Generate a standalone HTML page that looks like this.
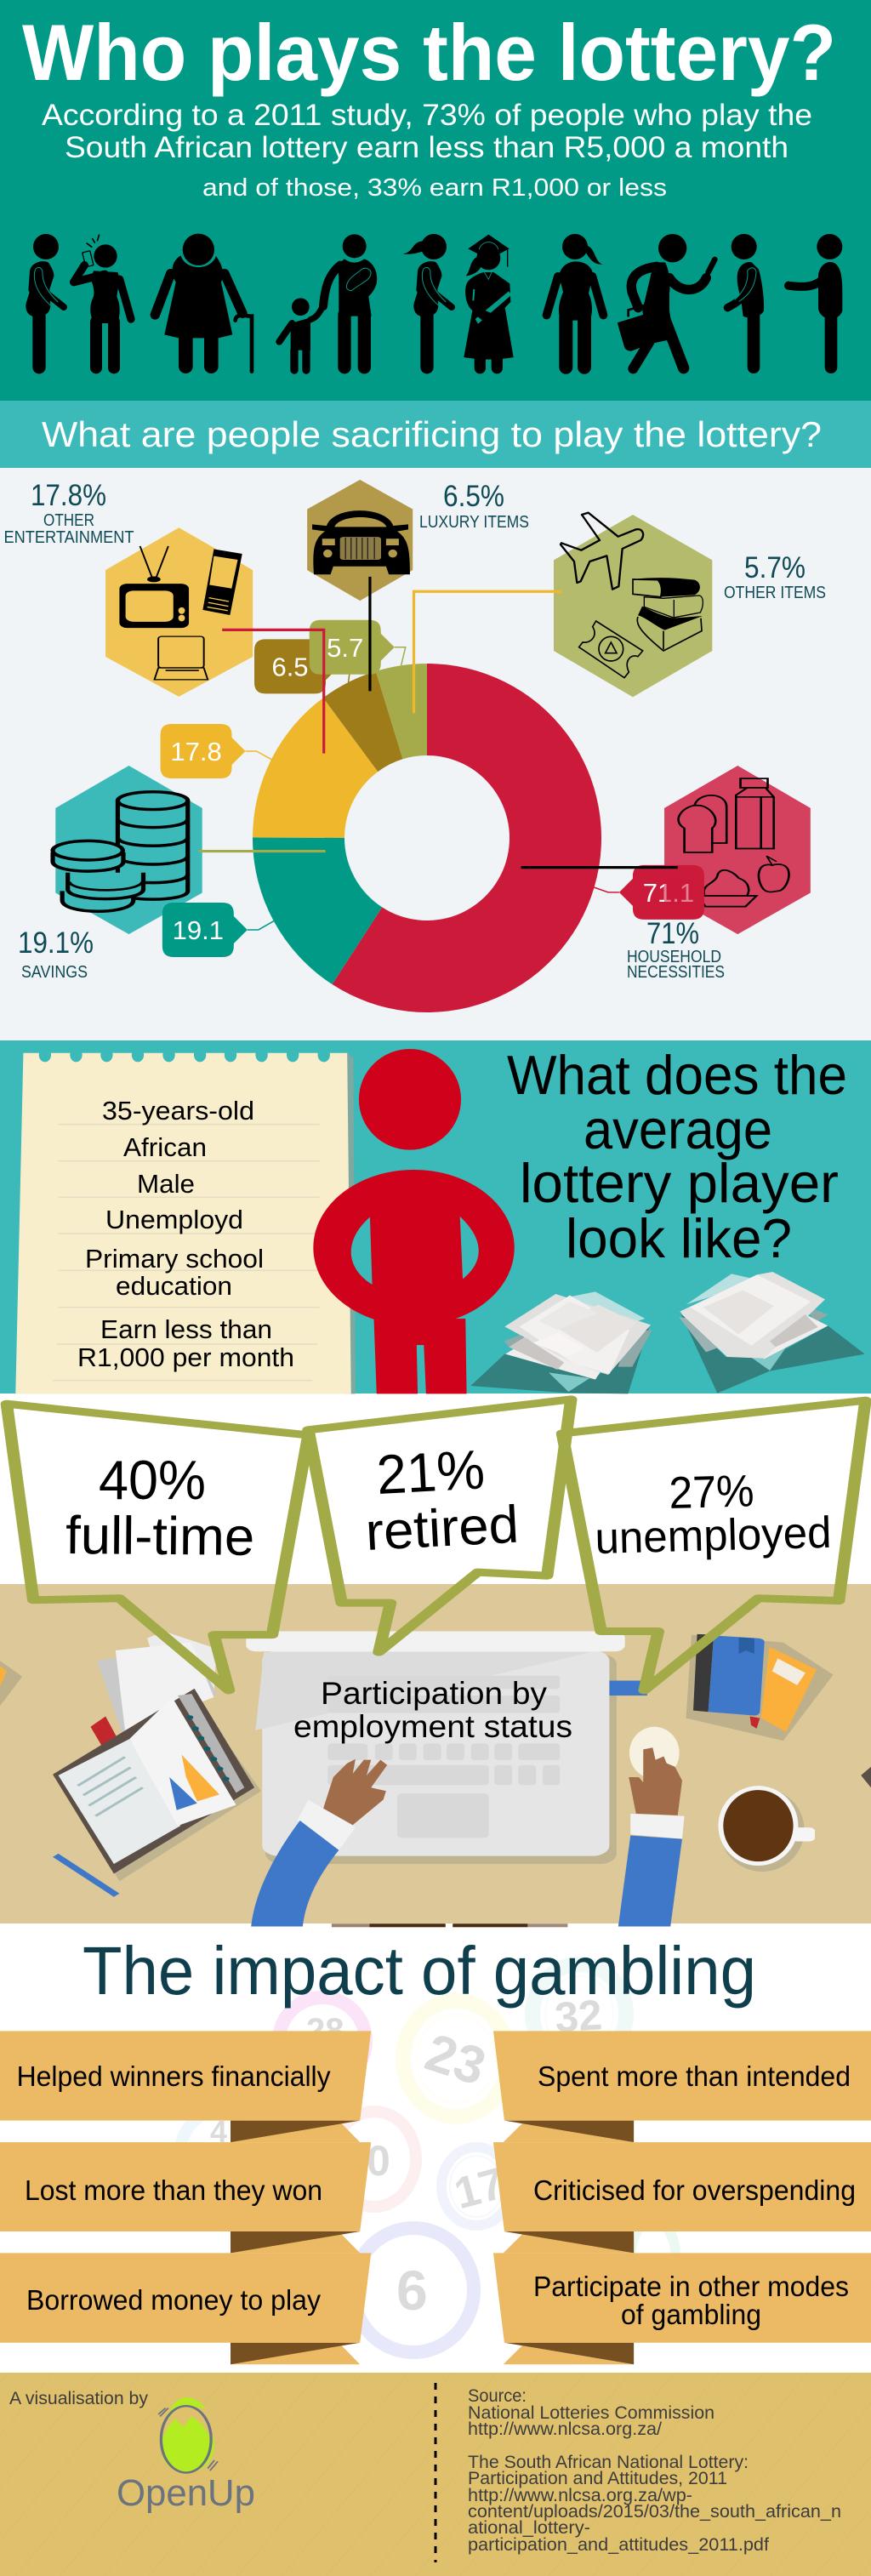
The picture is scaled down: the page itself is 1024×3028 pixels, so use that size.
<!DOCTYPE html>
<html lang="en">
<head>
<meta charset="utf-8">
<title>Who plays the lottery?</title>
<style>
html,body{margin:0;padding:0;background:#fff;width:1024px;height:3028px;overflow:hidden}
svg{display:block}
text{font-family:"Liberation Sans",sans-serif}
.vs{vector-effect:non-scaling-stroke}
</style>
</head>
<body>
<svg xmlns="http://www.w3.org/2000/svg" width="1024" height="3028" viewBox="0 0 1024 3028">
<defs>
<pattern id="hatch" width="40" height="40" patternUnits="userSpaceOnUse" patternTransform="rotate(40)">
<line x1="0" y1="0" x2="0" y2="40" stroke="#d6b863" stroke-width="1"/>
</pattern>
</defs>

<!-- ==== Header ==== -->
<rect x="0" y="0" width="1024" height="471" fill="#019a87"/>
<text x="26" y="94" font-size="94" font-weight="700" fill="#fff" textLength="957" lengthAdjust="spacingAndGlyphs">Who plays the lottery?</text>
<text x="49" y="147" font-size="35" fill="#fff" textLength="906" lengthAdjust="spacingAndGlyphs">According to a 2011 study, 73% of people who play the</text>
<text x="76" y="185" font-size="35" fill="#fff" textLength="851" lengthAdjust="spacingAndGlyphs">South African lottery earn less than R5,000 a month</text>
<text x="238" y="230" font-size="29" fill="#fff" textLength="546" lengthAdjust="spacingAndGlyphs">and of those, 33% earn R1,000 or less</text>

<g transform="translate(0,265) scale(0.33333)" fill="#000" stroke="none">
  <g>
    <circle cx="162" cy="75" r="45"/>
    <path d="M105 160 C110 130 150 120 170 130 C185 150 195 175 188 185 L175 225 L178 285 C175 315 150 325 115 320 C95 315 85 290 95 265 C100 245 108 235 100 230Z"/>
    <path d="M165 240 L225 288" stroke="#000" stroke-width="24" stroke-linecap="round"/>
    <path d="M122 165 C125 140 150 145 150 165 C148 195 165 235 205 270 M122 165 C115 215 150 265 205 302" fill="none" stroke="#019a87" stroke-width="3"/>
    <path d="M138 320 V500" stroke="#000" stroke-width="46" stroke-linecap="round"/>
  </g>
  <g>
    <circle cx="372" cy="108" r="41"/>
    <rect x="296" y="92" width="28" height="52" rx="3" fill="#019a87" stroke="#000" stroke-width="4" transform="rotate(-14 310 118)"/>
    <path d="M370 172 L260 200 L298 140" fill="none" stroke="#000" stroke-width="28" stroke-linecap="round" stroke-linejoin="round"/>
    <path d="M330 160 L415 165 C425 185 415 230 412 250 C425 280 425 310 415 345 L330 345 C315 310 315 280 330 250 C335 230 325 200 320 190Z"/>
    <path d="M422 190 L462 330" stroke="#000" stroke-width="28" stroke-linecap="round"/>
    <path d="M339 340 V502 M402 340 V502" stroke="#000" stroke-width="42" stroke-linecap="round"/>
    <path d="M305 62 L325 77 M325 45 L335 62 M350 32 L343 55" stroke="#000" stroke-width="5"/>
  </g>
  <g>
    <circle cx="700" cy="85" r="56"/>
    <path d="M640 105 C610 120 595 160 620 200 L580 385 L630 397 L770 397 L820 385 L780 200 C800 160 770 120 760 105 C740 155 660 155 640 105Z"/>
    <path d="M602 170 L547 315 M792 170 L855 310" stroke="#000" stroke-width="34" stroke-linecap="round"/>
    <path d="M640 105 C655 158 745 158 760 105" fill="none" stroke="#019a87" stroke-width="5"/>
    <path d="M655 397 V497 M745 397 V497" stroke="#000" stroke-width="50" stroke-linecap="round"/>
    <path d="M830 335 C832 305 875 322 888 320 V515" fill="none" stroke="#000" stroke-width="14" stroke-linecap="round"/>
  </g>
  <g>
    <circle cx="1060" cy="287" r="31"/>
    <path d="M1025 345 L1095 325 L1095 440 L1025 440Z"/>
    <path d="M1030 345 L985 410" stroke="#000" stroke-width="24" stroke-linecap="round"/>
    <path d="M1095 332 C1120 325 1130 300 1145 275" fill="none" stroke="#000" stroke-width="22" stroke-linecap="round"/>
    <path d="M1038 440 V510 M1080 440 V510" stroke="#000" stroke-width="28" stroke-linecap="round"/>
  </g>
  <g>
    <circle cx="1250" cy="73" r="42"/>
    <path d="M1215 118 C1240 135 1260 135 1285 118 C1320 130 1335 170 1328 205 C1320 230 1310 240 1300 250 L1310 320 L1195 320 L1195 180 C1190 160 1195 130 1215 118Z"/>
    <path d="M1200 140 C1155 175 1145 230 1140 285" fill="none" stroke="#000" stroke-width="30" stroke-linecap="round"/>
    <path d="M1222 215 C1225 185 1260 170 1275 155 C1290 145 1310 155 1308 170 C1305 195 1270 205 1240 230 C1230 230 1222 225 1222 215Z" fill="#000" stroke="#019a87" stroke-width="3"/>
    <path d="M1215 315 V500 M1285 315 V500" stroke="#000" stroke-width="46" stroke-linecap="round"/>
  </g>
  <g>
    <circle cx="1530" cy="75" r="45"/>
    <path d="M1490 55 C1450 60 1460 95 1420 100 C1450 105 1480 95 1495 90Z"/>
    <g transform="translate(1368,0)">
      <path d="M105 160 C110 130 150 120 170 130 C185 150 195 175 188 185 L175 225 L178 285 C175 315 150 325 115 320 C95 315 85 290 95 265 C100 245 108 235 100 230Z"/>
      <path d="M165 240 L225 288" stroke="#000" stroke-width="24" stroke-linecap="round"/>
      <path d="M122 165 C125 140 150 145 150 165 C148 195 165 235 205 270 M122 165 C115 215 150 265 205 302" fill="none" stroke="#019a87" stroke-width="3"/>
      <path d="M138 320 V500" stroke="#000" stroke-width="46" stroke-linecap="round"/>
    </g>
  </g>
</g>
<g transform="translate(512,265) scale(0.33333)" fill="#000" stroke="none">
  <g>
    <path d="M187 32 L260 82 L187 120 L115 82Z"/>
    <path d="M254 85 V146" stroke="#000" stroke-width="4"/>
    <path d="M153 85 C165 50 210 50 222 85" fill="none" stroke="#019a87" stroke-width="2.5"/>
    <circle cx="187" cy="115" r="42"/>
    <path d="M150 110 C120 120 125 160 107 178 C135 175 155 160 160 145Z"/>
    <path d="M170 165 L205 165 L262 205 L265 270 L245 290 L275 465 Q190 480 100 465 L130 300 C105 280 100 230 110 205 C120 185 150 170 170 165Z"/>
    <path d="M172 165 L187 190 L198 165" fill="none" stroke="#019a87" stroke-width="2.5"/>
    <path d="M136 225 L133 265" stroke="#019a87" stroke-width="6"/>
    <polygon points="140,330 258,232 268,245 150,347" fill="#019a87"/>
    <path d="M150 290 L200 310 L165 335 L135 310Z"/>
    <path d="M157 470 V503 M217 470 V503" stroke="#000" stroke-width="40" stroke-linecap="round"/>
  </g>
  <g>
    <circle cx="492" cy="75" r="45"/>
    <path d="M530 70 C565 75 560 130 590 137 C560 140 545 120 530 95Z"/>
    <path d="M435 175 C445 140 470 127 495 127 C525 127 555 145 555 175 L540 240 C555 270 555 310 545 335 L440 335 C430 300 435 270 450 235Z"/>
    <path d="M432 180 L392 316 M553 180 L592 316" stroke="#000" stroke-width="30" stroke-linecap="round"/>
    <path d="M460 325 V500 M525 325 V500" stroke="#000" stroke-width="48" stroke-linecap="round"/>
  </g>
  <g>
    <circle cx="836" cy="80" r="50"/>
    <path d="M770 130 L810 130 C825 160 830 200 825 240 L825 300 L840 400 L745 420 L730 300Z"/>
    <path d="M780 145 C705 155 680 190 695 240 L715 290" fill="none" stroke="#000" stroke-width="34" stroke-linecap="round"/>
    <path d="M825 185 C860 240 930 240 955 185" fill="none" stroke="#000" stroke-width="34" stroke-linecap="round"/>
    <path d="M962 165 L985 120" stroke="#000" stroke-width="20" stroke-linecap="round"/>
    <path d="M805 320 L875 503" stroke="#000" stroke-width="40" stroke-linecap="round"/>
    <path d="M755 410 L697 505" stroke="#000" stroke-width="36" stroke-linecap="round"/>
    <path d="M645 345 L790 300 L820 390 L690 440 Q672 440 668 425Z" stroke="#000" stroke-width="6" stroke-linejoin="round"/>
    <path d="M680 322 V298 L735 282 L738 305" fill="none" stroke="#000" stroke-width="8"/>
  </g>
  <g>
    <circle cx="1088" cy="75" r="45"/>
    <path d="M1115 130 C1095 125 1070 140 1065 170 C1060 210 1075 240 1080 280 L1085 320 C1100 330 1150 325 1158 300 C1160 250 1150 190 1140 155Z"/>
    <path d="M1095 240 C1080 260 1060 275 1030 290" fill="none" stroke="#000" stroke-width="28" stroke-linecap="round"/>
    <path d="M1100 160 C1115 140 1135 150 1130 175 C1125 220 1100 250 1070 268 M1100 160 C1105 200 1085 235 1055 262" fill="none" stroke="#019a87" stroke-width="3"/>
    <path d="M1122 320 V500" stroke="#000" stroke-width="44" stroke-linecap="round"/>
  </g>
  <g>
    <circle cx="1390" cy="75" r="45"/>
    <path d="M1350 175 C1355 140 1380 125 1400 130 C1425 135 1435 170 1435 230 V300 C1430 320 1410 330 1395 330 C1370 330 1350 310 1350 290Z"/>
    <path d="M1245 212 C1290 218 1330 220 1360 195" fill="none" stroke="#000" stroke-width="30" stroke-linecap="round"/>
    <path d="M1395 325 V500" stroke="#000" stroke-width="44" stroke-linecap="round"/>
  </g>
</g>

<rect x="0" y="471" width="1024" height="79" fill="#3cb9b9"/>
<text x="49" y="525" font-size="42" fill="#fff" textLength="917" lengthAdjust="spacingAndGlyphs">What are people sacrificing to play the lottery?</text>

<!-- ==== Donut section ==== -->
<rect x="0" y="550" width="1024" height="673" fill="#f0f4f6"/>
<g transform="translate(0,540) scale(0.65306,0.43367)">
  <g>
    <polygon points="322,185 455,300 455,535 322,643 190,535 190,300" fill="#f0c455"/>
    <rect x="215" y="337" width="125" height="120" rx="14" fill="#000"/>
    <rect x="226" y="356" width="86" height="84" rx="14" fill="#f0c455"/>
    <ellipse cx="327" cy="410" rx="6" ry="9" fill="#f0c455"/><ellipse cx="327" cy="430" rx="6" ry="9" fill="#f0c455"/>
    <path d="M252 235 L275 325 M303 235 L280 325" stroke="#000" stroke-width="3" fill="none"/>
    <ellipse cx="277" cy="325" rx="12" ry="8" fill="#000"/>
    <polygon points="385,243 436,256 414,422 365,408" fill="#000"/>
    <polygon points="385,262 428,272 417,350 377,340" fill="#f0c455"/>
    <path d="M376 375 L412 385 M375 388 L411 398 M373 400 L410 410" stroke="#f0c455" stroke-width="3"/>
    <rect x="285" y="480" width="82" height="85" rx="6" fill="none" stroke="#000" stroke-width="3"/>
    <path d="M285 565 L367 565 L374 597 L278 597Z" fill="none" stroke="#000" stroke-width="3"/>
    <path d="M298 572 H358" stroke="#000" stroke-width="4"/>
  </g>
  <g>
    <polygon points="648,55 743,135 743,300 648,383 553,300 553,135" fill="#b39a4a"/>
    <path d="M588 180 C600 125 695 125 708 180 L735 176 L735 190 L715 195 C735 215 738 245 738 312 L700 312 L695 290 L600 290 L595 312 L565 312 C562 245 565 215 585 195 L562 190 L562 176Z" fill="#000"/>
    <path d="M602 183 C612 148 685 148 696 183Z" fill="#b39a4a"/>
    <rect x="612" y="210" width="74" height="62" rx="6" fill="#8d7c45"/>
    <path d="M622 212 V270 M632 212 V270 M642 212 V270 M652 212 V270 M662 212 V270 M674 212 V270" stroke="#222" stroke-width="2"/>
    <rect x="580" y="215" width="23" height="18" fill="#b39a4a"/><rect x="695" y="215" width="23" height="18" fill="#b39a4a"/>
    <ellipse cx="590" cy="255" rx="8" ry="11" fill="#b39a4a"/><ellipse cx="707" cy="255" rx="8" ry="11" fill="#b39a4a"/>
  </g>
  <g>
    <polygon points="232,830 364,945 364,1175 232,1287 100,1175 100,945" fill="#3cb9b9"/>
    <path d="M212 925 V1170 C212 1200 338 1200 338 1170 V925" fill="#3cb9b9" stroke="#000" stroke-width="8"/>
    <ellipse cx="275" cy="925" rx="63" ry="24" fill="#3cb9b9" stroke="#000" stroke-width="8"/>
    <path d="M212 975 C215 1005 335 1005 338 975 M212 1025 C215 1055 335 1055 338 1025 M212 1075 C215 1105 335 1105 338 1075 M212 1125 C215 1155 335 1155 338 1125" fill="none" stroke="#000" stroke-width="8"/>
    <path d="M112 1170 V1195 C112 1235 240 1235 240 1195 V1170" fill="#3cb9b9" stroke="#000" stroke-width="8"/>
    <path d="M122 1120 V1165 C122 1200 258 1200 258 1165 V1120" fill="#3cb9b9" stroke="#000" stroke-width="8"/>
    <path d="M125 1145 C130 1175 250 1175 256 1145" fill="none" stroke="#000" stroke-width="6"/>
    <path d="M95 1065 V1090 C95 1125 222 1125 222 1090 V1065" fill="#3cb9b9" stroke="#000" stroke-width="8"/>
    <ellipse cx="158" cy="1060" rx="63" ry="26" fill="#3cb9b9" stroke="#000" stroke-width="8"/>
  </g>
  <g>
    <polygon points="1328,830 1459,945 1459,1175 1328,1287 1196,1175 1196,945" fill="#d4415f"/>
    <path d="M1250 940 C1255 900 1310 900 1308 945 V1040 H1280" fill="none" stroke="#000" stroke-width="4"/>
    <path d="M1232 1065 V1000 C1205 975 1235 935 1255 938 C1275 935 1300 975 1282 1000 V1065Z" fill="#d4415f" stroke="#000" stroke-width="4"/>
    <path d="M1325 910 L1345 890 H1378 L1393 915 V1055 H1325Z" fill="#d4415f" stroke="#000" stroke-width="4"/>
    <path d="M1333 865 H1382 V890 H1333Z M1325 915 H1370 V1055 M1370 915 L1393 915" fill="none" stroke="#000" stroke-width="4"/>
    <path d="M1390 1100 C1365 1090 1360 1130 1372 1160 C1380 1180 1395 1170 1400 1170 C1412 1170 1422 1140 1420 1120 C1418 1095 1400 1095 1390 1100Z" fill="none" stroke="#000" stroke-width="4"/>
    <path d="M1390 1100 L1380 1075 L1398 1090" fill="none" stroke="#000" stroke-width="3"/>
    <path d="M1268 1180 C1262 1150 1290 1150 1292 1125 C1300 1100 1322 1120 1330 1135 C1350 1145 1350 1170 1345 1182" fill="none" stroke="#000" stroke-width="4"/>
    <path d="M1256 1183 H1362 L1342 1212 H1270Z" fill="none" stroke="#000" stroke-width="4"/>
  </g>
</g>
<g transform="translate(640,600) scale(0.33333)" fill="none" stroke="#000">
  <polygon points="312,15 592,175 592,495 312,658 33,495 33,175" fill="#b5bb6d" stroke="none"/>
  <path d="M155 8 L132 15 L195 105 L130 140 L60 115 L57 120 L105 180 L115 255 L128 250 L160 180 L220 160 L240 278 L262 268 L275 135 L340 105 C358 85 345 60 320 68 L260 92Z" stroke-width="7" stroke-linejoin="round"/>
  <g>
    <path d="M312 243 C380 235 450 235 530 245 C555 255 555 285 530 298 L410 305 C415 285 415 262 400 245Z" fill="#000" stroke="none"/>
    <path d="M312 243 L400 245 C415 262 415 285 410 305 L312 295Z" stroke-width="5"/>
    <path d="M352 305 V340 L455 378 L550 360 C565 330 560 300 545 300 L420 310Z M457 315 V378" stroke-width="4"/>
    <path d="M345 338 C380 355 420 375 455 380 L558 372 L425 422 C395 410 355 375 330 370Z" fill="#000" stroke="none"/>
    <path d="M330 375 C320 400 340 430 420 495 L555 425 L552 380 M420 425 V490" stroke-width="5"/>
  </g>
  <g>
    <path d="M182 390 L347 495 L330 515 C305 505 280 530 298 570 L282 590 L122 482 L135 465 C165 470 190 440 170 410Z" stroke-width="5"/>
    <circle cx="235" cy="488" r="43" stroke-width="5"/>
    <path d="M235 465 L255 503 L215 503Z" stroke-width="5"/>
  </g>
</g>

<g id="donut-chart"></g>
<rect x="781" y="1033" width="34" height="30" fill="#cc1a3a" opacity="0.55"/>

<g transform="translate(0,540) scale(0.65306,0.43367)" fill="none">
  <path class="vs" d="M400 462 H583 V797" stroke="#cc1a3a" stroke-width="3.2"/>
  <path class="vs" d="M666 318 V628" stroke="#000" stroke-width="3.2"/>
  <path class="vs" d="M1012 358 H745 V688" stroke="#efb82c" stroke-width="3.2"/>
  <path class="vs" d="M358 1062 H586" stroke="#a5ab4a" stroke-width="3.2"/>
  <path class="vs" d="M938 1106 H1220" stroke="#000" stroke-width="3.2"/>
</g>

<g fill="#0f4a56">
  <text x="36" y="594" font-size="35" textLength="89" lengthAdjust="spacingAndGlyphs">17.8%</text>
  <text x="51" y="618" font-size="20" textLength="60" lengthAdjust="spacingAndGlyphs">OTHER</text>
  <text x="4.5" y="638" font-size="20" textLength="153" lengthAdjust="spacingAndGlyphs">ENTERTAINMENT</text>
  <text x="521" y="595" font-size="35" textLength="72" lengthAdjust="spacingAndGlyphs">6.5%</text>
  <text x="493" y="620" font-size="20" textLength="129" lengthAdjust="spacingAndGlyphs">LUXURY ITEMS</text>
  <text x="875" y="679" font-size="35" textLength="72" lengthAdjust="spacingAndGlyphs">5.7%</text>
  <text x="851" y="703" font-size="20" textLength="120" lengthAdjust="spacingAndGlyphs">OTHER ITEMS</text>
  <text x="21" y="1120" font-size="35" textLength="89" lengthAdjust="spacingAndGlyphs">19.1%</text>
  <text x="25" y="1149" font-size="20" textLength="78" lengthAdjust="spacingAndGlyphs">SAVINGS</text>
  <text x="760" y="1109" font-size="35" textLength="62" lengthAdjust="spacingAndGlyphs">71%</text>
  <text x="737" y="1131" font-size="20" textLength="111" lengthAdjust="spacingAndGlyphs">HOUSEHOLD</text>
  <text x="737" y="1149" font-size="20" textLength="115" lengthAdjust="spacingAndGlyphs">NECESSITIES</text>
</g>

<!-- ==== Average player ==== -->
<rect x="0" y="1223" width="1024" height="415" fill="#3cb9b9"/>
<g transform="translate(0,1210) scale(0.65306,0.33333)">
  <g>
    <polygon points="625,83 636,100 640,1285 620,1285" fill="#7fa9a0"/>
    <polygon points="42,83 625,83 632,1285 28,1285" fill="#f8eecb"/>
    <g fill="#3cb9b9">
      <ellipse cx="81" cy="90" rx="11" ry="25"/><ellipse cx="137" cy="90" rx="11" ry="25"/><ellipse cx="192" cy="90" rx="11" ry="25"/><ellipse cx="248" cy="90" rx="11" ry="25"/><ellipse cx="304" cy="90" rx="11" ry="25"/><ellipse cx="360" cy="90" rx="11" ry="25"/><ellipse cx="415" cy="90" rx="11" ry="25"/><ellipse cx="471" cy="90" rx="11" ry="25"/><ellipse cx="527" cy="90" rx="11" ry="25"/><ellipse cx="583" cy="90" rx="11" ry="25"/>
    </g>
    <rect x="42" y="60" width="583" height="23" fill="#3cb9b9"/>
    <path class="vs" d="M105 335 H575 M105 464 H575 M105 592 H575 M105 720 H575 M105 850 H575 M105 980 H575 M103 1110 H572 M95 1238 H562" stroke="#e4dcc4" stroke-width="1.5" fill="none"/>
  </g>
  <g>
    <ellipse cx="738" cy="247" rx="92" ry="178" fill="#d0011b"/>
    <ellipse cx="745" cy="770" rx="181" ry="275" fill="#d0011b"/>
    <path d="M673 1020 L838 1020 L840 1285 L767 1285 L763 1113 L750 1113 L752 1285 L678 1285Z" fill="#d0011b"/>
    <path d="M666 662 C620 740 620 840 670 900Z" fill="#3cb9b9"/>
    <path d="M828 660 C872 740 872 820 833 880Z" fill="#3cb9b9"/>
  </g>
</g>
<g transform="translate(540,1480) scale(0.33333)">
  <g>
    <polygon points="40,447 160,335 480,420 670,235 595,475 380,472" fill="#33807f"/>
    <polygon points="315,400 385,468 460,420" fill="#7fc9c9"/>
    <polygon points="380,135 480,115 655,210 580,235" fill="#b9e0e0"/>
    <polygon points="560,380 610,380 680,250 600,260" fill="#8ea9a8"/>
    <polygon points="163,335 260,275 540,330 480,425" fill="#f0eeed"/>
    <polygon points="158,290 215,265 240,300 175,310" fill="#8eaaa9"/>
    <polygon points="175,310 230,275 370,365 345,390" fill="#c9c6c4"/>
    <polygon points="160,238 340,123 675,232 525,408 405,370" fill="#e2e0de"/>
    <polygon points="212,238 390,128 600,250 530,405 405,370" fill="#f3f1f0"/>
    <polygon points="340,240 490,160 625,225 485,330" fill="#e6e3e1"/>
    <polygon points="280,218 390,150 490,190 345,250" fill="#ebe9e8"/>
    <polygon points="260,295 350,260 440,315 385,345" fill="#f7f4f3"/>
  </g>
  <g>
    <polygon points="780,190 910,473 1095,395 1430,335 1300,235 1155,315 940,345" fill="#33807f"/>
    <polygon points="1020,340 1150,315 1095,393" fill="#7fc9c9"/>
    <polygon points="775,205 870,328 945,300 830,210" fill="#9bb3b2"/>
    <polygon points="800,160 960,52 1040,70 880,135" fill="#b9e0e0"/>
    <polygon points="1230,170 1300,195 1250,230" fill="#8eaaa9"/>
    <polygon points="780,190 1000,290 1075,352 1300,235 1190,180 1040,100 945,345" fill="#f0eeed"/>
    <polygon points="778,185 1050,55 1105,45 1290,142 1075,350 945,345" fill="#e4e2e0"/>
    <polygon points="815,170 1050,55 1240,150 1030,305" fill="#f3f1f0"/>
    <polygon points="860,170 1000,110 1110,165 985,265" fill="#e6e3e1"/>
    <polygon points="1095,290 1220,195 1265,240 1115,310" fill="#c9c6c4"/>
  </g>
</g>
<g fill="#000">
  <text x="120" y="1316" font-size="31" textLength="179" lengthAdjust="spacingAndGlyphs">35-years-old</text>
  <text x="145" y="1359" font-size="31" textLength="98" lengthAdjust="spacingAndGlyphs">African</text>
  <text x="161" y="1402" font-size="31" textLength="68" lengthAdjust="spacingAndGlyphs">Male</text>
  <text x="124" y="1444" font-size="31" textLength="162" lengthAdjust="spacingAndGlyphs">Unemployd</text>
  <text x="100" y="1490" font-size="31" textLength="210" lengthAdjust="spacingAndGlyphs">Primary school</text>
  <text x="136" y="1522" font-size="31" textLength="137" lengthAdjust="spacingAndGlyphs">education</text>
  <text x="118" y="1573" font-size="31" textLength="202" lengthAdjust="spacingAndGlyphs">Earn less than</text>
  <text x="91" y="1606" font-size="31" textLength="255" lengthAdjust="spacingAndGlyphs">R1,000 per month</text>
</g>
<g fill="#000">
  <text x="596" y="1286" font-size="65" textLength="400" lengthAdjust="spacingAndGlyphs">What does the</text>
  <text x="686" y="1350" font-size="65" textLength="222" lengthAdjust="spacingAndGlyphs">average</text>
  <text x="611" y="1413" font-size="65" textLength="375" lengthAdjust="spacingAndGlyphs">lottery player</text>
  <text x="665" y="1478" font-size="65" textLength="266" lengthAdjust="spacingAndGlyphs">look like?</text>
</g>

<!-- ==== Employment ==== -->
<rect x="0" y="1862" width="1024" height="399" fill="#dcc898"/>
<g transform="translate(0,1640) scale(0.65306,0.40816)">
  <g>
    <polygon points="265,700 295,680 390,730 385,860 300,880" fill="#ececec"/>
    <polygon points="175,765 345,720 390,860 220,975" fill="#c9c9c9"/>
    <polygon points="208,735 345,712 385,870 225,965" fill="#f2f2f2"/>
    <polygon points="110,1110 350,870 470,1140 215,1400" fill="#bfb390"/>
    <polygon points="163,955 190,925 212,990 185,1015" fill="#c1272d"/>
    <polygon points="95,1092 350,845 458,1130 205,1378" fill="#5b4f48"/>
    <polygon points="320,865 345,860 440,1130 425,1145" fill="#b5b5b5"/>
    <polygon points="105,1095 233,990 325,1240 205,1350" fill="#e8eced"/>
    <polygon points="233,990 310,870 425,1180 320,1240" fill="#f4f4f4"/>
    <path d="M140 1125 L225 1042 M150 1152 L235 1072 M160 1182 L245 1100 M172 1212 L257 1130" stroke="#a8bfc2" stroke-width="6"/>
    <polygon points="305,1100 318,1195 355,1175" fill="#3f78c9"/>
    <polygon points="327,1035 395,1150 355,1170 335,1100" fill="#fbb03b"/>
    <g fill="#0f5e6e"><circle cx="342" cy="928" r="6"/><circle cx="352" cy="960" r="6"/><circle cx="362" cy="988" r="6"/><circle cx="373" cy="1018" r="6"/><circle cx="385" cy="1048" r="6"/><circle cx="396" cy="1076" r="6"/><circle cx="407" cy="1105" r="6"/></g>
    <path d="M100 1325 L210 1440" stroke="#3f78c9" stroke-width="14"/>
  </g>
  <g>
    <rect x="478" y="745" width="632" height="605" rx="30" fill="#bfb390"/>
    <rect x="472" y="735" width="625" height="592" rx="30" fill="#e5e5e5"/>
    <polygon points="475,740 1065,740 460,965" fill="#dcdcdc"/>
    <rect x="443" y="680" width="682" height="58" rx="18" fill="#f2f2f2"/>
    <g fill="#d8d8d8">
      <rect x="590" y="808" width="418" height="38" rx="8"/>
      <rect x="590" y="865" width="418" height="50" rx="8"/>
      <rect x="590" y="1003" width="72" height="48" rx="8"/><rect x="675" y="1003" width="32" height="48" rx="8"/><rect x="718" y="1003" width="32" height="48" rx="8"/><rect x="762" y="1003" width="32" height="48" rx="8"/><rect x="804" y="1003" width="32" height="48" rx="8"/><rect x="848" y="1003" width="32" height="48" rx="8"/><rect x="890" y="1003" width="32" height="48" rx="8"/><rect x="933" y="1003" width="75" height="48" rx="8"/>
      <rect x="590" y="1065" width="290" height="58" rx="8"/><rect x="890" y="1065" width="32" height="58" rx="8"/><rect x="933" y="1065" width="32" height="58" rx="8"/><rect x="977" y="1065" width="31" height="58" rx="8"/>
      <rect x="715" y="1147" width="165" height="128" rx="10"/>
    </g>
    <rect x="1097" y="822" width="68" height="43" fill="#3f78c9"/>
  </g>
  <g>
    <polygon points="582,1190 600,1100 625,1060 640,1048 635,1090 655,1050 668,1050 660,1095 685,1050 697,1065 668,1130 695,1140 690,1165 635,1238" fill="#a06c4a"/>
    <polygon points="555,1165 640,1245 610,1310 535,1225" fill="#f2f2f2"/>
    <path d="M540 1225 L610 1310 C570 1390 550 1460 545 1530 L452 1530 C460 1420 500 1310 540 1225Z" fill="#3f78c9"/>
    <ellipse cx="1178" cy="1030" rx="45" ry="75" fill="#f6f1e0"/>
    <polygon points="1145,1205 1132,1100 1150,1100 1158,1115 1158,1020 1175,1015 1180,1050 1195,1040 1200,1060 1215,1070 1228,1110 1220,1210" fill="#a06c4a"/>
    <polygon points="1135,1205 1232,1212 1228,1278 1135,1265" fill="#f2f2f2"/>
    <polygon points="1135,1268 1228,1278 1207,1530 1113,1530" fill="#3f78c9"/>
  </g>
  <g>
    <polygon points="1410,712 1500,805 1410,995 1235,930 1245,690" fill="#bdb08a"/>
    <polygon points="1350,925 1368,930 1362,960 1352,950" fill="#c1272d"/>
    <polygon points="1385,725 1470,790 1415,970 1370,930" fill="#fbb03b"/>
    <polygon points="1400,758 1450,800 1435,835 1390,795" fill="#f2ede0"/>
    <polygon points="1255,688 1285,690 1275,912 1248,908" fill="#3a3a3a"/>
    <path d="M1285 692 L1365 700 Q1378 702 1376 715 L1368 912 Q1366 924 1355 922 L1275 912Z" fill="#3f78c9"/>
    <polygon points="1330,697 1358,700 1358,745 1343,735 1330,745" fill="#2a5fa4"/>
  </g>
  <g>
    <ellipse cx="1372" cy="1252" rx="76" ry="120" fill="#bfb390"/>
    <rect x="1425" y="1245" width="42" height="40" rx="10" fill="#f5f5f5"/>
    <ellipse cx="1365" cy="1240" rx="72" ry="115" fill="#f5f5f5"/>
    <ellipse cx="1365" cy="1240" rx="63" ry="103" fill="#5f3512"/>
  </g>
  <polygon points="0,765 40,810 0,895" fill="#bdb08a"/>
  <polygon points="0,780 12,795 0,840" fill="#fbb03b"/>
  <polygon points="1568,1070 1550,1095 1568,1130" fill="#5b4f48"/>
  <g>
    <rect x="597" y="1522" width="68" height="10" fill="#9c8370"/><rect x="665" y="1522" width="137" height="10" fill="#4a2a10"/><rect x="815" y="1522" width="135" height="10" fill="#4a2a10"/><rect x="950" y="1522" width="72" height="10" fill="#a08a78"/>
  </g>
  <g fill="none" stroke="#a3ab48" stroke-width="22" stroke-linejoin="round">
    <path d="M12 25 L555 115 L490 690 L385 690 L412 850 L215 585 L60 590Z"/>
    <path d="M1012 110 L1558 15 L1510 592 L1365 585 L1160 850 L1185 680 L1082 680Z"/>
    <path d="M555 100 L1028 12 L985 520 L860 510 L682 740 L703 598 L615 598Z"/>
  </g>
</g>
<g fill="#000">
  <text x="116" y="1762" font-size="65" textLength="126" lengthAdjust="spacingAndGlyphs">40%</text>
  <text x="77" y="1826" font-size="63" textLength="222" lengthAdjust="spacingAndGlyphs" transform="rotate(0.5 77 1826)">full-time</text>
  <text x="444" y="1756" font-size="65" textLength="127" lengthAdjust="spacingAndGlyphs" transform="rotate(-3 444 1756)">21%</text>
  <text x="431" y="1822" font-size="62" textLength="180" lengthAdjust="spacingAndGlyphs" transform="rotate(-3 431 1822)">retired</text>
  <text x="787" y="1773" font-size="53" textLength="100" lengthAdjust="spacingAndGlyphs" transform="rotate(-1.5 787 1773)">27%</text>
  <text x="700" y="1826" font-size="52" textLength="278" lengthAdjust="spacingAndGlyphs" transform="rotate(-1.5 700 1826)">unemployed</text>
  <text x="377" y="2003" font-size="37" textLength="266" lengthAdjust="spacingAndGlyphs">Participation by</text>
  <text x="345" y="2042" font-size="37" textLength="328" lengthAdjust="spacingAndGlyphs">employment status</text>
</g>

<!-- ==== Impact ==== -->
<g fill="none">
  <g>
    <ellipse cx="379" cy="2399" rx="51" ry="51" stroke="#fbe4f8" stroke-width="16"/>
    <ellipse cx="379" cy="2399" rx="41" ry="41" stroke="#fff" stroke-width="2"/>
  </g>
  <g>
    <ellipse cx="536" cy="2420" rx="62" ry="68" stroke="#fefde9" stroke-width="18"/>
    <ellipse cx="536" cy="2420" rx="46" ry="52" stroke="#fffef5" stroke-width="2"/>
  </g>
  <g>
    <ellipse cx="681" cy="2367" rx="55" ry="58" stroke="#eff9f8" stroke-width="18"/>
    <ellipse cx="681" cy="2367" rx="40" ry="44" stroke="#f7fcfc" stroke-width="2"/>
  </g>
  <g>
    <ellipse cx="262" cy="2530" rx="50" ry="50" stroke="#eef7fc" stroke-width="14"/>
  </g>
  <g>
    <ellipse cx="440" cy="2538" rx="49" ry="56" stroke="#fdefef" stroke-width="14"/>
    <ellipse cx="440" cy="2538" rx="36" ry="43" stroke="#fff" stroke-width="2"/>
  </g>
  <g>
    <ellipse cx="560" cy="2570" rx="41" ry="46" stroke="#f0f2fc" stroke-width="12"/>
    <ellipse cx="560" cy="2570" rx="31" ry="36" stroke="#f7f8fe" stroke-width="2"/>
  </g>
  <g>
    <ellipse cx="486" cy="2692" rx="71" ry="73" stroke="#e8e8fb" stroke-width="16"/>
    <ellipse cx="486" cy="2692" rx="61" ry="63" stroke="#fff" stroke-width="2"/>
  </g>
  <ellipse cx="768" cy="2650" rx="26" ry="40" stroke="#ecf9f0" stroke-width="12"/>
</g>
<g fill="#dbdbdb" font-weight="700">
  <text x="536" y="2442" font-size="62" text-anchor="middle" transform="rotate(18 536 2420)">23</text>
  <text x="680" y="2387" font-size="50" text-anchor="middle" transform="rotate(-4 680 2370)">32</text>
  <text x="360" y="2400" font-size="40">28</text>
  <text x="247" y="2518" font-size="36">4</text>
  <text x="431" y="2557" font-size="50">0</text>
  <text x="563" y="2590" font-size="52" text-anchor="middle" transform="rotate(-15 563 2570)">17</text>
  <text x="466" y="2715" font-size="66">6</text>
</g>
<text x="97" y="2344" font-size="80" fill="#0f3f4d" textLength="792" lengthAdjust="spacingAndGlyphs">The impact of gambling</text>
<g transform="translate(0,2260) scale(0.65306,0.4898)">
  <g>
    <polygon points="615,482 648,527 415,527 415,475" fill="#ecb964"/><polygon points="415,475 648,475 415,527" fill="#765020"/>
    <polygon points="0,260 668,260 648,475 0,475" fill="#ecb964"/>
  </g>
  <g>
    <polygon points="615,748 648,793 415,793 415,741" fill="#ecb964"/><polygon points="415,741 648,741 415,793" fill="#765020"/>
    <polygon points="0,527 668,527 648,741 0,741" fill="#ecb964"/>
  </g>
  <g>
    <polygon points="615,1015 648,1060 415,1060 415,1008" fill="#ecb964"/><polygon points="415,1008 648,1008 415,1060" fill="#765020"/>
    <polygon points="0,793 668,793 648,1008 0,1008" fill="#ecb964"/>
  </g>
  <g>
    <polygon points="940,482 1141,527 906,527" fill="#ecb964"/><polygon points="908,475 1141,475 1141,527" fill="#765020"/>
    <polygon points="888,260 1568,260 1568,475 908,475" fill="#ecb964"/>
  </g>
  <g>
    <polygon points="940,748 1141,793 906,793" fill="#ecb964"/><polygon points="908,741 1141,741 1141,793" fill="#765020"/>
    <polygon points="888,527 1568,527 1568,741 908,741" fill="#ecb964"/>
  </g>
  <g>
    <polygon points="940,1015 1141,1060 906,1060" fill="#ecb964"/><polygon points="908,1008 1141,1008 1141,1060" fill="#765020"/>
    <polygon points="888,793 1568,793 1568,1008 908,1008" fill="#ecb964"/>
  </g>
</g>
<g fill="#000">
  <text x="19.6" y="2452" font-size="33" textLength="369" lengthAdjust="spacingAndGlyphs">Helped winners financially</text>
  <text x="632" y="2452" font-size="33" textLength="368" lengthAdjust="spacingAndGlyphs">Spent more than intended</text>
  <text x="29" y="2586" font-size="33" textLength="350" lengthAdjust="spacingAndGlyphs">Lost more than they won</text>
  <text x="627" y="2586" font-size="33" textLength="379" lengthAdjust="spacingAndGlyphs">Criticised for overspending</text>
  <text x="31" y="2715" font-size="33" textLength="346" lengthAdjust="spacingAndGlyphs">Borrowed money to play</text>
  <text x="627" y="2699" font-size="33" textLength="371" lengthAdjust="spacingAndGlyphs">Participate in other modes</text>
  <text x="730" y="2732" font-size="33" textLength="165" lengthAdjust="spacingAndGlyphs">of gambling</text>
</g>

<!-- ==== Footer ==== -->
<rect x="0" y="2789" width="1024" height="239" fill="#dfc06d"/>
<rect x="0" y="2789" width="1024" height="239" fill="url(#hatch)"/>
<text x="11" y="2826" font-size="21" fill="#3c3c3c" textLength="163" lengthAdjust="spacingAndGlyphs">A visualisation by</text>
<g transform="translate(0,2260) scale(0.65306,0.4898)">
  <path d="M305 1200 C300 1165 320 1135 340 1140 C365 1145 380 1175 372 1205 L385 1240 C390 1290 365 1320 335 1320 C305 1320 288 1290 290 1245Z" fill="#b3ed21"/>
  <path d="M300 1215 L315 1190 L330 1210 L345 1185 L365 1205 L378 1235 L385 1190 C375 1160 360 1165 335 1160 C315 1160 305 1180 300 1215Z" fill="#dfc06d"/>
  <ellipse cx="335" cy="1240" rx="45" ry="80" fill="none" stroke="#6b7280" stroke-width="5"/>
  <path d="M303 1165 L288 1185 M298 1165 L285 1180 M392 1293 L378 1315 M386 1290 L374 1310" stroke="#6b7280" stroke-width="3"/>
</g>
<text x="137" y="2945" font-size="44" fill="#6b7280" textLength="163" lengthAdjust="spacingAndGlyphs">OpenUp</text>
<line x1="512" y1="2801" x2="512" y2="3012" stroke="#000" stroke-width="3" stroke-dasharray="8 8"/>
<g fill="#3c3c3c" font-size="21">
  <text x="550" y="2823" textLength="69" lengthAdjust="spacingAndGlyphs">Source:</text>
  <text x="550" y="2843" textLength="290" lengthAdjust="spacingAndGlyphs">National Lotteries Commission</text>
  <text x="550" y="2862" textLength="228" lengthAdjust="spacingAndGlyphs">http://www.nlcsa.org.za/</text>
  <text x="550" y="2901" textLength="330" lengthAdjust="spacingAndGlyphs">The South African National Lottery:</text>
  <text x="550" y="2920" textLength="305" lengthAdjust="spacingAndGlyphs">Participation and Attitudes, 2011</text>
  <text x="550" y="2940" textLength="264" lengthAdjust="spacingAndGlyphs">http://www.nlcsa.org.za/wp-</text>
  <text x="550" y="2959" textLength="439" lengthAdjust="spacingAndGlyphs">content/uploads/2015/03/the_south_african_n</text>
  <text x="550" y="2978" textLength="144" lengthAdjust="spacingAndGlyphs">ational_lottery-</text>
  <text x="550" y="2998" textLength="354" lengthAdjust="spacingAndGlyphs">participation_and_attitudes_2011.pdf</text>
</g>
</svg>

<script>
const categories = ["household-necessities", "savings", "other-entertainment", "luxury-items", "other-items"];
const shareValues = [71.1, 19.1, 17.8, 6.5, 5.7];
const sliceColors = ["#cc1a3a", "#019a87", "#efb82c", "#9e7c1a", "#a5ab4a"];

function drawDonut() {
  const NS = "http://www.w3.org/2000/svg";
  const root = document.getElementById("donut-chart");
  const cx = 502, cy = 985, outerR = 205, innerR = 97;
  const calloutShift = [-3.8, 6.6, -6.2, -11.8, -14.7];
  const calloutRadius = [291, 290, 290, 258, 244];
  const total = shareValues.reduce(function (a, b) { return a + b; }, 0);
  function angleOf(v) { return v / total * 360; }
  function polar(deg, r) {
    const t = deg * Math.PI / 180;
    return [cx + r * Math.sin(t), cy - r * Math.cos(t)];
  }
  function n(v) { return v.toFixed(2); }
  let start = 0;
  const mids = [];
  shareValues.forEach(function (v, i) {
    const end = start + angleOf(v);
    mids.push((start + end) / 2);
    const large = end - start > 180 ? 1 : 0;
    const a = polar(start, outerR), b = polar(end, outerR), c = polar(end, innerR), d = polar(start, innerR);
    const slice = document.createElementNS(NS, "path");
    slice.setAttribute("d", "M" + n(a[0]) + " " + n(a[1]) + " A" + outerR + " " + outerR + " 0 " + large + " 1 " + n(b[0]) + " " + n(b[1]) + " L" + n(c[0]) + " " + n(c[1]) + " A" + innerR + " " + innerR + " 0 " + large + " 0 " + n(d[0]) + " " + n(d[1]) + "Z");
    slice.setAttribute("fill", sliceColors[i]);
    
    
    root.appendChild(slice);
    start = end;
  });
  shareValues.forEach(function (v, i) {
    const W = 84, H = 64, R = 13, tip = 16;
    const pos = polar(mids[i] + calloutShift[i], calloutRadius[i]);
    const edge = polar(mids[i], outerR);
    const dir = pos[0] < cx ? 1 : -1;
    const tipX = pos[0] + dir * (W / 2 + tip);
    const connector = document.createElementNS(NS, "path");
    connector.setAttribute("d", "M" + n(tipX) + " " + n(pos[1]) + " L" + n(tipX + dir * 13) + " " + n(pos[1]) + " L" + n(edge[0]) + " " + n(edge[1]));
    connector.setAttribute("fill", "none");
    connector.setAttribute("stroke", sliceColors[i]);
    connector.setAttribute("stroke-width", "1.5");
    
    
    root.appendChild(connector);
    const x = pos[0], y = pos[1], hw = W / 2, hh = H / 2;
    const sx = x + dir * hw, bx = x - dir * hw;
    const bubble = document.createElementNS(NS, "path");
    bubble.setAttribute("d",
      "M" + n(bx + dir * R) + " " + n(y - hh) +
      " L" + n(sx - dir * R) + " " + n(y - hh) +
      " Q" + n(sx) + " " + n(y - hh) + " " + n(sx) + " " + n(y - hh + R) +
      " L" + n(sx) + " " + n(y - hh * 0.5) +
      " L" + n(tipX) + " " + n(y) +
      " L" + n(sx) + " " + n(y + hh * 0.5) +
      " L" + n(sx) + " " + n(y + hh - R) +
      " Q" + n(sx) + " " + n(y + hh) + " " + n(sx - dir * R) + " " + n(y + hh) +
      " L" + n(bx + dir * R) + " " + n(y + hh) +
      " Q" + n(bx) + " " + n(y + hh) + " " + n(bx) + " " + n(y + hh - R) +
      " L" + n(bx) + " " + n(y - hh + R) +
      " Q" + n(bx) + " " + n(y - hh) + " " + n(bx + dir * R) + " " + n(y - hh) + "Z");
    bubble.setAttribute("fill", sliceColors[i]);
    
    
    root.appendChild(bubble);
    const label = document.createElementNS(NS, "text");
    label.setAttribute("x", n(x));
    label.setAttribute("y", n(y + 11));
    label.setAttribute("text-anchor", "middle");
    label.setAttribute("font-size", "31");
    label.setAttribute("fill", "#fff");
    
    
    label.textContent = v.toFixed(1);
    root.appendChild(label);
  });
}
drawDonut();
</script>
</body>
</html>
